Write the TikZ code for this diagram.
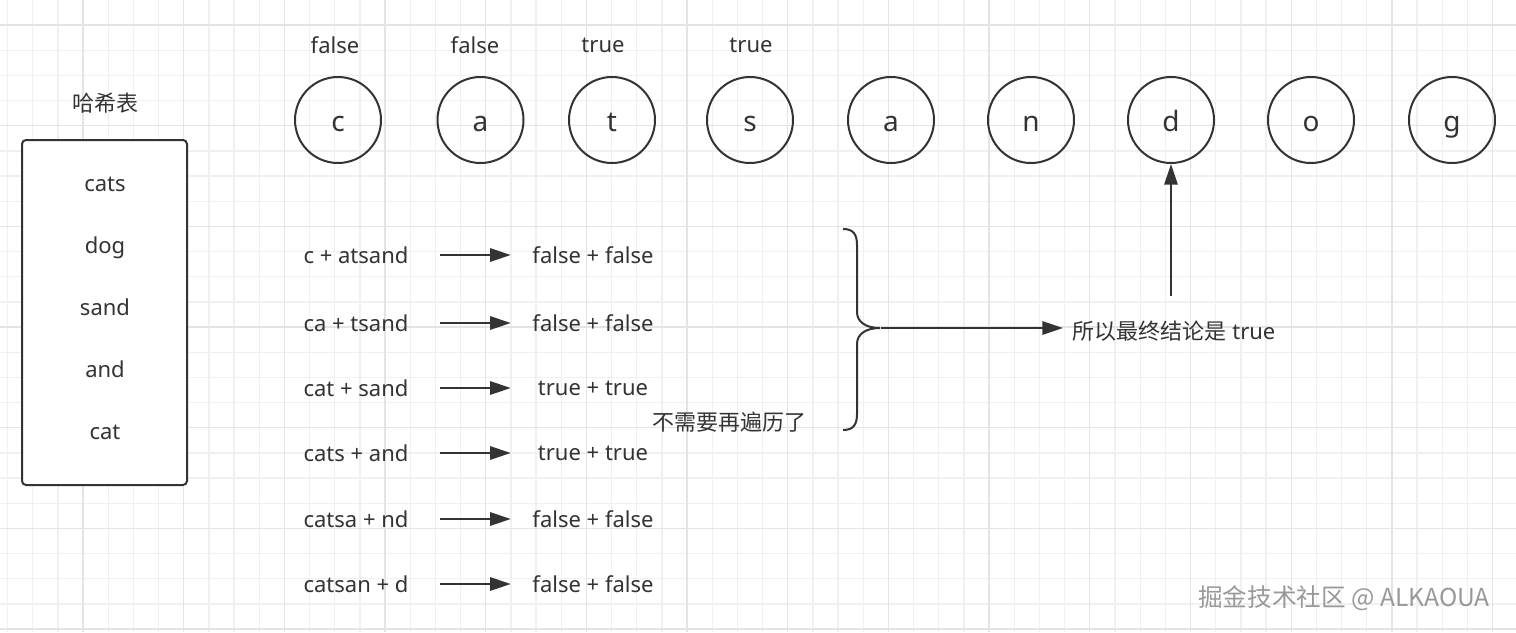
\documentclass[tikz,border=0pt]{standalone}
\usepackage{fontspec}
\setmainfont{Noto Sans}
\newfontfamily\cjk{Noto Sans CJK SC}
\usetikzlibrary{arrows.meta}
\definecolor{ink}{HTML}{333333}
\definecolor{gridminor}{HTML}{F0F0F0}
\definecolor{gridmajor}{HTML}{E4E4E4}
\begin{document}
\begin{tikzpicture}[x=0.75pt, y=-0.75pt,
    word/.style={text=ink, inner sep=0pt, font=\fontsize{16.5}{20}\selectfont},
    letter/.style={circle, draw=ink, line width=1.5pt, minimum size=64.5pt, inner sep=0pt, text=ink,
        text height=16.5pt, text depth=0pt, font=\fontsize{21}{25}\selectfont},
    hashbox/.style={draw=ink, fill=white, line width=1.5pt, rounded corners=3pt, minimum width=123.75pt, minimum height=258.75pt},
    arr/.style={draw=ink, line width=1.5pt, -{Triangle[length=15.5pt,width=10pt]}}]

    % --- Canvas and background grid ---
    \useasboundingbox (0,0) rectangle (1516,632);
    \fill[white] (0,0) rectangle (1516,632);
    \foreach \k in {0,...,60}
        \draw[gridminor, line width=1pt] ({7.5+25.17*\k},0) -- ({7.5+25.17*\k},632);
    \foreach \k in {1,...,25}
        \draw[gridminor, line width=1pt] (0,{-0.17+25.17*\k}) -- (1516,{-0.17+25.17*\k});
    \foreach \k in {3,7,...,59}
        \draw[gridmajor, line width=1pt] ({7.5+25.17*\k},0) -- ({7.5+25.17*\k},632);
    \foreach \k in {1,5,...,25}
        \draw[gridmajor, line width=1pt] (0,{-0.17+25.17*\k}) -- (1516,{-0.17+25.17*\k});

    % --- Hash table ---
    \node[word, font=\cjk\fontsize{16.5}{20}\selectfont] (hashlabel) at (105,103) {哈希表};
    \node[hashbox] (hash) at (104.5,312.5) {};
    \foreach \w [count=\i] in {cats,dog,sand,and,cat}
        \node[word, text height=8.85pt, text depth=0pt] (w\i) at (105,{186+62*(\i-1)}) {\w};

    % --- Letters of the string ---
    \foreach \x/\ch [count=\i] in {338/c,480.5/a,612/t,750/s,891/a,1031/n,1171/d,1311/o,1452/g}
        \node[letter] (ch\i) at (\x,120) {\ch};

    % --- Results above the first letters ---
    \foreach \x/\v [count=\i] in {335/false,475/false,603/true,751/true}
        \node[word] (val\i) at (\x,45) {\v};

    % --- Splits and their results ---
    \foreach \y/\lft/\rgt [count=\i] in {255/c + atsand/false + false,
                                          323/ca + tsand/false + false,
                                          388/cat + sand/true + true,
                                          453/cats + and/true + true,
                                          519/catsa + nd/false + false,
                                          584/catsan + d/false + false}
    {
        \node[word, minimum width=126pt] (l\i) at (356,\y) {\lft};
        \node[word, minimum width=123pt] (r\i) at (593,\y) {\rgt};
        \draw[arr] (l\i.east) -- (r\i.west);
    }

    % --- Brace over the first rows ---
    \draw[ink, line width=1.5pt] (843,229) .. controls (853,229) and (857,234) .. (857,245)
        -- (857,312) .. controls (857,322) and (866,328) .. (880,328)
        .. controls (866,328) and (857,334) .. (857,344)
        -- (857,414) .. controls (857,425) and (853,430) .. (843,430);
    \coordinate (tip) at (881,328);
    \node[word, font=\cjk\fontsize{16.5}{20}\selectfont] (stop) at (729,422) {不需要再遍历了};

    % --- Conclusion ---
    \node[word, anchor=west, inner xsep=7pt] (result) at (1063,331)
        {{\cjk 所以最终结论是} true};
    \draw[arr] (tip) -- (tip -| result.west);
    \coordinate (up) at (1171,296);
    \draw[arr] (up) -- (ch7);

    % --- Watermark ---
    \node[text=black!40, inner sep=0pt, font=\cjk\fontsize{18.5}{22}\selectfont] (mark) at (1344,598)
        {掘金技术社区 @ ALKAOUA};

\end{tikzpicture}
\end{document}
